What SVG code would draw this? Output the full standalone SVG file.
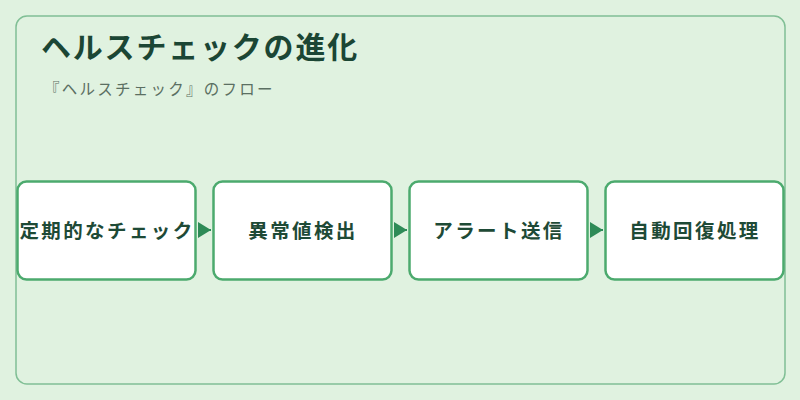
<svg xmlns="http://www.w3.org/2000/svg" width="800" height="400" viewBox="0 0 800 400">
  <defs>
    <style>
      .frame { fill: #e0f2e0; stroke: #80bf95; stroke-width: 1.5; }
      .node rect { fill: #ffffff; stroke: #4caa6e; stroke-width: 2.5; }
      .node text { font-family: "Noto Sans CJK JP", "Noto Sans", sans-serif; font-size: 19.5px; font-weight: bold; fill: #1e4a36; text-anchor: middle; letter-spacing: 2.4px; }
      .title { font-family: "Noto Sans CJK JP", "Noto Sans", sans-serif; font-size: 30px; font-weight: bold; fill: #1b4634; letter-spacing: 1.8px; }
      .subtitle { font-family: "Noto Sans CJK JP", "Noto Sans", sans-serif; font-size: 15.5px; fill: #5b6f62; letter-spacing: 2.25px; }
      .conn { stroke: #2e8b57; stroke-width: 2; fill: none; }
    </style>
    <marker id="arrow" markerUnits="userSpaceOnUse" viewBox="0 0 13 16" markerWidth="13" markerHeight="16" refX="13" refY="8" orient="auto">
      <path d="M0,0 L13,8 L0,16 z" fill="#2e8b57"/>
    </marker>
  </defs>
  <rect x="0" y="0" width="800" height="400" fill="#e0f2e0"/>
  <rect class="frame" x="16" y="16" width="769" height="368" rx="11"/>
  <text class="title" x="41" y="58">ヘルスチェックの進化</text>
  <text class="subtitle" x="44" y="95">『ヘルスチェック』のフロー</text>

  <g id="connectors">
    <line class="conn" x1="199" y1="230" x2="211" y2="230" marker-end="url(#arrow)"/>
    <line class="conn" x1="395" y1="230" x2="407" y2="230" marker-end="url(#arrow)"/>
    <line class="conn" x1="591" y1="230" x2="603" y2="230" marker-end="url(#arrow)"/>
  </g>

  <g id="node1" class="node">
    <rect x="17.5" y="181.5" width="178" height="98" rx="9"/>
    <text x="107" y="237.5">定期的なチェック</text>
  </g>
  <g id="node2" class="node">
    <rect x="213.5" y="181.5" width="178" height="98" rx="9"/>
    <text x="303" y="237.5">異常値検出</text>
  </g>
  <g id="node3" class="node">
    <rect x="409.5" y="181.5" width="178" height="98" rx="9"/>
    <text x="499" y="237.5">アラート送信</text>
  </g>
  <g id="node4" class="node">
    <rect x="605.5" y="181.5" width="178" height="98" rx="9"/>
    <text x="695" y="237.5">自動回復処理</text>
  </g>
</svg>
